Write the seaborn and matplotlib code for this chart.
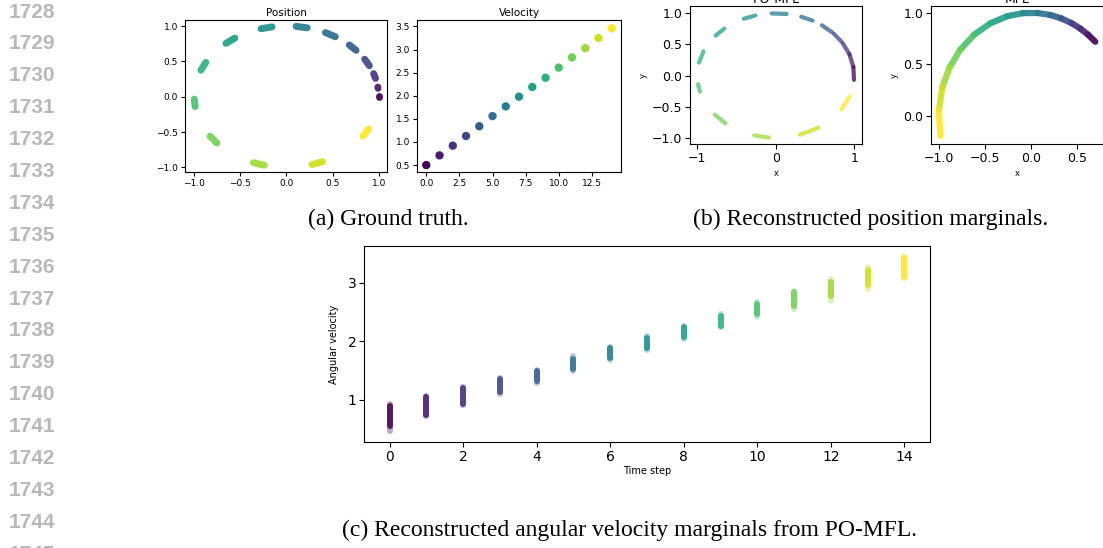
import numpy as np
import pandas as pd
import matplotlib
matplotlib.use("Agg")
import matplotlib.pyplot as plt
import seaborn as sns

# ---------------- data ----------------
steps = list(range(15))

# (a) ground truth: position blobs on the unit circle, arc start/end angle (deg)
gt_pos_start_deg = [-0.4, 6.8, 15, 26, 41, 58, 77, 99, 124, 151, 182, 214, 249, 286, 326]
gt_pos_end_deg = [0.4, 7.8, 19, 32, 47, 65, 84, 106, 131, 158, 188, 221, 256, 293, 333]
gt_velocity = [0.50, 0.71, 0.92, 1.13, 1.34, 1.56, 1.77, 1.98, 2.19, 2.39,
               2.61, 2.83, 3.03, 3.25, 3.46]

# (b) reconstructed position marginals
pomfl_start_deg = [-4, 8, 20, 33, 44, 62, 82, 105, 131, 157, 188, 219, 254, 288, 327]
pomfl_end_deg = [8, 20, 31, 42, 54, 71, 93, 114, 140, 168, 195, 230, 265, 303, 340]
mfl_bounds_deg = [46, 52, 58, 64, 71, 78, 86, 95, 105, 116, 128, 140, 152, 164, 177, 191]

# (c) reconstructed angular velocity marginals (PO-MFL)
ang_outer_lo = [0.47, 0.72, 0.91, 1.10, 1.29, 1.50, 1.68, 1.86, 2.04, 2.25, 2.42, 2.55, 2.69, 2.89, 3.06]
ang_outer_hi = [0.93, 1.07, 1.23, 1.38, 1.52, 1.75, 1.91, 2.09, 2.27, 2.46, 2.67, 2.86, 3.07, 3.27, 3.45]
ang_core_lo = [0.56, 0.75, 0.93, 1.13, 1.32, 1.53, 1.71, 1.89, 2.07, 2.27, 2.46, 2.60, 2.78, 2.97, 3.10]
ang_core_hi = [0.90, 1.05, 1.21, 1.36, 1.50, 1.70, 1.88, 2.06, 2.24, 2.43, 2.64, 2.84, 3.02, 3.22, 3.42]

line_numbers = [str(n) for n in range(1728, 1746)]
cap_a = "(a) Ground truth."
cap_b = "(b) Reconstructed position marginals."
cap_c = "(c) Reconstructed angular velocity marginals from PO-MFL."

# ---------------- helpers ----------------
W, H = 1103, 548


def box(left, top, right, bottom):
    return [left / W, (H - bottom) / H, (right - left) / W, (bottom - top) / H]


def arc_frame(start_deg, end_deg):
    rows = []
    for t, a0, a1 in zip(steps, start_deg, end_deg):
        for a in (a0, a1):
            r = np.deg2rad(a)
            rows.append({"step": t, "x": np.cos(r), "y": np.sin(r)})
    return pd.DataFrame(rows)


def strip_frame(lo, hi):
    rows = []
    for t, a, b in zip(steps, lo, hi):
        rows.append({"step": t, "v": a})
        rows.append({"step": t, "v": b})
    return pd.DataFrame(rows)


def seg_lines(ax, df, x, y, lw, alpha):
    sns.lineplot(data=df, x=x, y=y, hue="step", units="step", estimator=None,
                 sort=False, palette="viridis", hue_norm=(0, 14), legend=False,
                 linewidth=lw, alpha=alpha, solid_capstyle="round", ax=ax)


def style(ax, fs, tl):
    ax.tick_params(labelsize=fs, length=tl, width=0.8, pad=2)
    for s in ax.spines.values():
        s.set_linewidth(0.8)
    ax.set_xlabel("")
    ax.set_ylabel("")


fig = plt.figure(figsize=(W / 100, H / 100), dpi=100)

# ---------------- (a) Position ----------------
ax1 = fig.add_axes(box(185, 20, 387, 172))
seg_lines(ax1, arc_frame(gt_pos_start_deg, gt_pos_end_deg), "x", "y", 5.0, 0.92)
ax1.set_xlim(-1.10, 1.09)
ax1.set_ylim(-1.066, 1.085)
ax1.set_xticks([-1.0, -0.5, 0.0, 0.5, 1.0])
ax1.set_yticks([-1.0, -0.5, 0.0, 0.5, 1.0])
style(ax1, 6.5, 3)
ax1.set_xticklabels(["−1.0", "−0.5", "0.0", "0.5", "1.0"])
ax1.set_yticklabels(["−1.0", "−0.5", "0.0", "0.5", "1.0"])
ax1.set_title("Position", fontsize=7.5, pad=3)

# ---------------- (a) Velocity ----------------
ax2 = fig.add_axes(box(417, 20, 621, 172))
vel_df = pd.DataFrame({"step": steps, "v": gt_velocity})
sns.scatterplot(data=vel_df, x="step", y="v", hue="step", palette="viridis",
                hue_norm=(0, 14), legend=False, s=36, linewidth=0, ax=ax2)
ax2.set_xlim(-0.7, 14.7)
ax2.set_ylim(0.35, 3.64)
ax2.set_xticks([0, 2.5, 5, 7.5, 10, 12.5])
ax2.set_xticklabels(["0.0", "2.5", "5.0", "7.5", "10.0", "12.5"])
ax2.set_yticks([0.5, 1.0, 1.5, 2.0, 2.5, 3.0, 3.5])
ax2.set_yticklabels(["0.5", "1.0", "1.5", "2.0", "2.5", "3.0", "3.5"])
style(ax2, 6.5, 3)
ax2.set_title("Velocity", fontsize=7.5, pad=3)

# ---------------- (b) PO-MFL ----------------
ax3 = fig.add_axes(box(690, 6, 862, 144))
seg_lines(ax3, arc_frame(pomfl_start_deg, pomfl_end_deg), "x", "y", 3.0, 0.75)
ax3.set_xlim(-1.093, 1.10)
ax3.set_ylim(-1.10, 1.118)
ax3.set_xticks([-1, 0, 1])
ax3.set_xticklabels(["−1", "0", "1"])
ax3.set_yticks([-1.0, -0.5, 0.0, 0.5, 1.0])
ax3.set_yticklabels(["−1.0", "−0.5", "0.0", "0.5", "1.0"])
style(ax3, 9, 3.5)
ax3.set_xlabel("x", fontsize=6, labelpad=3)
ax3.set_ylabel("y", fontsize=6, labelpad=3)
ax3.set_title("PO-MFL", fontsize=9, pad=2)

# ---------------- (b) MFL ----------------
ax4 = fig.add_axes(box(931, 6, 1103, 144))
seg_lines(ax4, arc_frame(mfl_bounds_deg[:-1], mfl_bounds_deg[1:]), "x", "y", 4.5, 0.9)
ax4.set_xlim(-1.083, 0.778)
ax4.set_ylim(-0.27, 1.065)
ax4.set_xticks([-1.0, -0.5, 0.0, 0.5])
ax4.set_xticklabels(["−1.0", "−0.5", "0.0", "0.5"])
ax4.set_yticks([0.0, 0.5, 1.0])
ax4.set_yticklabels(["0.0", "0.5", "1.0"])
style(ax4, 9, 3.5)
ax4.set_xlabel("x", fontsize=6, labelpad=3)
ax4.set_ylabel("y", fontsize=6, labelpad=3)
ax4.set_title("MFL", fontsize=9, pad=2)

# ---------------- (c) angular velocity ----------------
ax5 = fig.add_axes(box(364, 246, 930, 442))
seg_lines(ax5, strip_frame(ang_outer_lo, ang_outer_hi), "step", "v", 4.3, 0.35)
seg_lines(ax5, strip_frame(ang_core_lo, ang_core_hi), "step", "v", 4.3, 0.85)
ax5.set_xlim(-0.7, 14.7)
ax5.set_ylim(0.283, 3.628)
ax5.set_xticks(list(range(0, 15, 2)))
ax5.set_yticks([1, 2, 3])
style(ax5, 10, 3.5)
ax5.set_xlabel("Time step", fontsize=7, labelpad=2)
ax5.set_ylabel("Angular velocity", fontsize=7, labelpad=6)

# ---------------- page furniture ----------------
for i, lab in enumerate(line_numbers):
    y = 12 + i * 31.9
    fig.text(55 / W, 1 - y / H, lab, ha="right", va="center", fontsize=15,
             color="#b8b8b8", family="Liberation Sans", weight="bold")

serif = dict(family="Liberation Serif", fontsize=17, color="black", va="center", ha="center")
fig.text(388.5 / W, 1 - 219 / H, cap_a, **serif)
fig.text(871 / W, 1 - 219 / H, cap_b, **serif)
fig.text(630 / W, 1 - 530 / H, cap_c, **serif)

fig.savefig("out.png", dpi=100)
